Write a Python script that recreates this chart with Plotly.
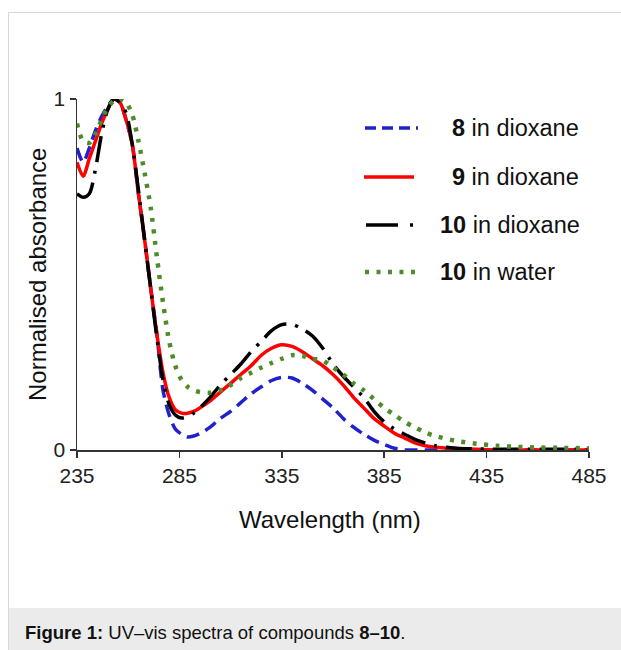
import plotly.graph_objects as go

wavelength = [235, 238, 241, 244, 247, 250, 253, 256, 259, 262, 265, 268, 271, 274, 277, 280,
              283, 286, 289, 292, 295, 300, 305, 310, 315, 320, 325, 330, 335, 340, 345, 350,
              355, 360, 365, 370, 375, 380, 385, 390, 395, 400, 405, 410, 420, 430, 440, 450,
              460, 470, 485]

abs_8_dioxane = [0.86, 0.82, 0.86, 0.91, 0.95, 0.98, 1.0, 0.99, 0.94, 0.87, 0.73, 0.60, 0.46, 0.33,
                 0.17, 0.10, 0.06, 0.045, 0.037, 0.04, 0.047, 0.065, 0.09, 0.11, 0.135, 0.16, 0.18,
                 0.198, 0.207, 0.205, 0.19, 0.17, 0.145, 0.12, 0.09, 0.065, 0.045, 0.028, 0.016,
                 0.005, 0.0, 0.0, 0.0, 0.0, 0.0, 0.0, 0.0, 0.0, 0.0, 0.0, 0.0]

abs_9_dioxane = [0.82, 0.78, 0.83, 0.88, 0.93, 0.97, 1.0, 0.99, 0.94, 0.87, 0.73, 0.60, 0.46, 0.33,
                 0.22, 0.15, 0.115, 0.105, 0.105, 0.11, 0.12, 0.14, 0.165, 0.19, 0.215, 0.24, 0.27,
                 0.29, 0.30, 0.295, 0.28, 0.26, 0.24, 0.215, 0.185, 0.15, 0.12, 0.09, 0.068, 0.048,
                 0.034, 0.02, 0.012, 0.008, 0.004, 0.002, 0.0, 0.0, 0.0, 0.0, 0.0]

abs_10_dioxane = [0.73, 0.72, 0.73, 0.80, 0.90, 0.97, 1.0, 0.99, 0.96, 0.87, 0.74, 0.60, 0.46, 0.32,
                  0.20, 0.13, 0.10, 0.091, 0.095, 0.105, 0.12, 0.15, 0.185, 0.215, 0.245, 0.28, 0.31,
                  0.34, 0.357, 0.358, 0.345, 0.325, 0.29, 0.245, 0.21, 0.18, 0.15, 0.11, 0.08, 0.06,
                  0.045, 0.03, 0.02, 0.012, 0.005, 0.003, 0.002, 0.002, 0.002, 0.002, 0.002]

abs_10_water = [0.93, 0.88, 0.875, 0.90, 0.94, 0.975, 0.995, 1.0, 0.99, 0.955, 0.88, 0.79, 0.69, 0.55,
                0.42, 0.31, 0.24, 0.20, 0.18, 0.17, 0.165, 0.163, 0.17, 0.185, 0.205, 0.22, 0.235,
                0.248, 0.26, 0.27, 0.268, 0.26, 0.255, 0.235, 0.215, 0.19, 0.17, 0.145, 0.12, 0.10,
                0.08, 0.065, 0.05, 0.04, 0.026, 0.018, 0.012, 0.009, 0.007, 0.006, 0.005]

x_ticks = [235, 285, 335, 385, 435, 485]
y_ticks = [0, 1]

series_names = ["8", "9", "10", "10"]
series_solvents = [" in dioxane", " in dioxane", " in dioxane", " in water"]

BLUE = "#2020CC"
RED = "#FF0000"
BLACK = "#000000"
GREEN = "#4E8C2A"
FONT = "Liberation Sans, Arial"

W, H = 621, 650
L, R, T, B = 77, 32, 99, 200
PW, PH = W - L - R, H - T - B


def px(xp):
    return (xp - L) / PW


def py(yp):
    return (H - B - yp) / PH


fig = go.Figure()
styles = [
    (abs_8_dioxane, BLUE, 3.5, "13px,7px"),
    (abs_9_dioxane, RED, 3.5, "solid"),
    (abs_10_dioxane, BLACK, 3.5, "26px,9px,3px,9px"),
    (abs_10_water, GREEN, 4.5, "4px,7.5px"),
]
for (vals, col, w, dash), nm, sv in zip(styles, series_names, series_solvents):
    fig.add_trace(go.Scatter(x=wavelength, y=vals, mode="lines", name=nm + sv,
                             line=dict(color=col, width=w, dash=dash, shape="spline", smoothing=0.8),
                             cliponaxis=False, showlegend=False, hoverinfo="skip"))

axis_common = dict(showline=True, linecolor="#333333", linewidth=1.5, ticks="outside",
                   ticklen=6, tickcolor="#333333", tickwidth=1.5, showgrid=False, zeroline=False,
                   tickfont=dict(family=FONT, size=21, color="#222222"))
fig.update_xaxes(range=[235, 485], tickvals=x_ticks, ticktext=[str(t) for t in x_ticks], **axis_common)
fig.update_yaxes(range=[0, 1], tickvals=y_ticks, ticktext=[str(t) for t in y_ticks], **axis_common)

shapes = []
shapes.append(dict(type="rect", xref="paper", yref="paper", x0=px(8.5), x1=px(625), y0=py(12.5), y1=py(660),
                   line=dict(color="#D8D8D8", width=1), fillcolor="rgba(0,0,0,0)", layer="below"))
shapes.append(dict(type="rect", xref="paper", yref="paper", x0=px(9), x1=px(625), y0=py(608), y1=py(660),
                   line=dict(width=0), fillcolor="#EBEBEB", layer="below"))

leg_y = [128, 177, 225, 272]
leg_styles = [(BLUE, 3.5, "11px,6px", 365, 418),
              (RED, 3.5, "solid", 364, 414),
              (BLACK, 3.5, "32px,12px,3px,9px", 366, 414),
              (GREEN, 4.5, "4px,7.5px", 365, 420)]
for yy, (col, w, dash, xa, xb) in zip(leg_y, leg_styles):
    shapes.append(dict(type="line", xref="paper", yref="paper", x0=px(xa), x1=px(xb), y0=py(yy), y1=py(yy),
                       line=dict(color=col, width=w, dash=dash)))

annotations = []
leg_x = [450, 450, 438, 438]
for yy, xx, nm, sv in zip(leg_y, leg_x, series_names, series_solvents):
    annotations.append(dict(xref="paper", yref="paper", x=px(xx), y=py(yy), xanchor="left", yanchor="middle",
                            text="<b>" + nm + "</b>" + sv, showarrow=False,
                            font=dict(family=FONT, size=23.5, color="#111111")))

annotations.append(dict(xref="paper", yref="paper", x=px(37), y=py(275), xanchor="center", yanchor="middle",
                        text="Normalised absorbance", textangle=-90, showarrow=False,
                        font=dict(family=FONT, size=24, color="#111111")))
annotations.append(dict(xref="paper", yref="paper", x=px(330), y=py(519), xanchor="center", yanchor="middle",
                        text="Wavelength (nm)", showarrow=False,
                        font=dict(family=FONT, size=24, color="#111111")))
annotations.append(dict(xref="paper", yref="paper", x=px(23), y=py(632), xanchor="left", yanchor="middle",
                        text="<b>Figure 1:</b> UV\u2013vis spectra of compounds <b>8\u201310</b>.", showarrow=False,
                        font=dict(family=FONT, size=18.5, color="#111111")))

fig.update_layout(width=W, height=H, margin=dict(l=L, r=R, t=T, b=B),
                  paper_bgcolor="white", plot_bgcolor="white", hovermode=False,
                  shapes=shapes, annotations=annotations, showlegend=False)

fig.write_html("out.html", config={"displayModeBar": False, "staticPlot": True},
               post_script="document.body.style.margin='0';document.body.style.overflow='hidden';")
